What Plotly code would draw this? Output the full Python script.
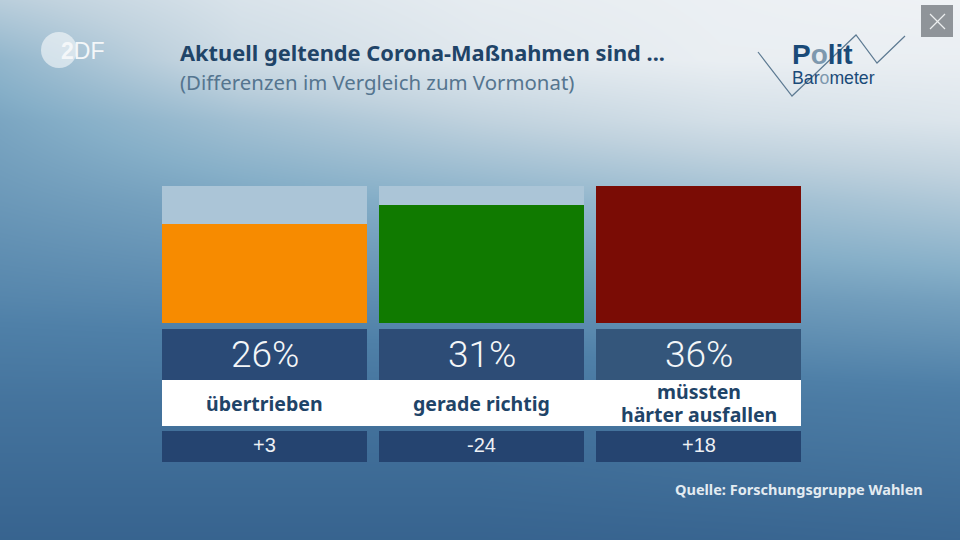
import plotly.graph_objects as go

categories = ["übertrieben", "gerade richtig", "müssten<br>härter ausfallen"]
shares = [26, 31, 36]
changes = ["+3", "-24", "+18"]
bar_colors = ["#f78b00", "#107a00", "#7a0c05"]
track_value = [36, 36, 36]

# background lightness, 0 = dark blue, 1 = near white
bg_x = [0, 240, 480, 720, 960]
bg_y = [0, 60, 120, 200, 300, 400, 540]
bg_z = [
    [0.72, 0.88, 0.95, 0.98, 1.00],
    [0.55, 0.82, 0.92, 0.97, 0.97],
    [0.45, 0.62, 0.75, 0.85, 0.90],
    [0.38, 0.45, 0.52, 0.60, 0.68],
    [0.28, 0.30, 0.33, 0.38, 0.42],
    [0.15, 0.15, 0.15, 0.20, 0.22],
    [0.02, 0.02, 0.02, 0.03, 0.05],
]
bg_scale = [
    [0.0, "#35618d"],
    [0.25, "#4f80a8"],
    [0.5, "#86afc8"],
    [0.75, "#c0d2de"],
    [1.0, "#eff2f5"],
]

W, H = 960, 540
NAVY = "#1f4468"
TEXT_FONT = "Noto Sans"
NUM_FONT = "Liberation Sans"


def px(x):
    return x / W


def py(y):
    return 1 - y / H


fig = go.Figure()

fig.add_trace(go.Heatmap(x=bg_x, y=bg_y, z=bg_z, colorscale=bg_scale, zmin=0, zmax=1,
                         zsmooth="best", showscale=False, hoverinfo="skip",
                         xaxis="x", yaxis="y"))
fig.add_trace(go.Bar(x=categories, y=track_value, marker_color="#abc5d7",
                     marker_line_width=0, xaxis="x2", yaxis="y2"))
fig.add_trace(go.Bar(x=categories, y=shares, marker_color=bar_colors,
                     marker_line_width=0, xaxis="x2", yaxis="y2"))

shapes = []
annotations = []


def label(x, y, text, size, color, font=TEXT_FONT, xref="paper", anchor="center", weight=None):
    if xref == "paper":
        x = px(x)
    annotations.append(dict(x=x, y=py(y), xref=xref, yref="paper", text=text, showarrow=False,
                            xanchor=anchor, yanchor="middle", align=anchor,
                            font=dict(family=font, size=size, color=color, weight=weight)))


def box(x0, y0, x1, y1, color):
    shapes.append(dict(type="rect", xref="paper", yref="paper", x0=px(x0), x1=px(x1),
                       y0=py(y1), y1=py(y0), fillcolor=color, line_width=0, layer="above"))


# value tiles under the bars, white band over the full width
tile_colors = ["#2a4a76", "#2d4c76", "#34567b"]
for i in range(3):
    left = 162 + i * 217
    box(left, 329, left + 205, 380, tile_colors[i])
    box(left, 431, left + 205, 462, "#254470")
box(162, 380, 801, 426, "#ffffff")

for i, cat in enumerate(categories):
    label(cat, 354, f"{shares[i]}%", 37, "#f4f6f8", "Roboto", xref="x2", weight=300)
    lines = cat.split("<br>")
    for j, line in enumerate(lines):
        label(cat, 403 + (j - (len(lines) - 1) / 2) * 23, f"<b>{line}</b>", 19.5, NAVY, xref="x2")
    label(cat, 445, changes[i], 20, "#eef1f5", NUM_FONT, xref="x2")

label(178, 52, "<b>Aktuell geltende Corona-Maßnahmen sind ...</b>", 21.8, NAVY, anchor="left")
label(178, 82, "(Differenzen im Vergleich zum Vormonat)", 20.4, "#55758f", anchor="left")
label(925, 489, "<b>Quelle: Forschungsgruppe Wahlen</b>", 14.5, "#e3ebf1", anchor="right")

# ZDF logo
shapes.append(dict(type="circle", xref="paper", yref="paper", x0=px(41), x1=px(77),
                   y0=py(68), y1=py(32), fillcolor="rgba(255,255,255,0.55)",
                   line_width=0, layer="above"))
label(82, 51, "<b>2</b>DF", 23, "#f4f7f9", NUM_FONT)

# Politbarometer logo, one text block so the two lines sit as tight as in the original
logo_points = [(758, 52), (792, 96), (856, 35), (877, 63), (905, 36)]
path = " ".join(("M" if i == 0 else "L") + f" {px(a)} {py(b)}" for i, (a, b) in enumerate(logo_points))
shapes.append(dict(type="path", xref="paper", yref="paper", path=path,
                   line=dict(color="#5d7a92", width=1.2), layer="above"))
logo_text = (
    "<span style='font-size:28px'><b>P<span style='color:#7d98ae'>o</span>lit</b></span><br>"
    "<span style='font-size:17.7px'>Bar<span style='color:#7d98ae'>o</span>meter</span>"
)
label(790, 63, logo_text, 15, "#1a4a78", NUM_FONT, anchor="left")

# close button
box(921, 5, 953, 37, "#8f9499")
for y_a, y_b in [(14, 29), (29, 14)]:
    shapes.append(dict(type="line", xref="paper", yref="paper", x0=px(930), x1=px(945),
                       y0=py(y_a), y1=py(y_b), line=dict(color="#eceeef", width=1.3),
                       layer="above"))

axis_off = dict(visible=False, fixedrange=True)
fig.update_layout(
    width=W,
    height=H,
    margin=dict(l=0, r=0, t=0, b=0),
    showlegend=False,
    barmode="overlay",
    bargap=12 / 217,
    paper_bgcolor="#4f80a8",
    plot_bgcolor="rgba(0,0,0,0)",
    xaxis=dict(domain=[0, 1], range=[0, 960], **axis_off),
    yaxis=dict(domain=[0, 1], range=[540, 0], **axis_off),
    xaxis2=dict(domain=[px(156), px(807)], anchor="y2", type="category",
                range=[-0.5, 2.5], **axis_off),
    yaxis2=dict(domain=[py(323), py(186)], anchor="x2", range=[0, 36], **axis_off),
    shapes=shapes,
    annotations=annotations,
)

fig.write_html("out.html", config={"displayModeBar": False},
               post_script="document.body.style.margin='0';document.body.style.overflow='hidden';")
